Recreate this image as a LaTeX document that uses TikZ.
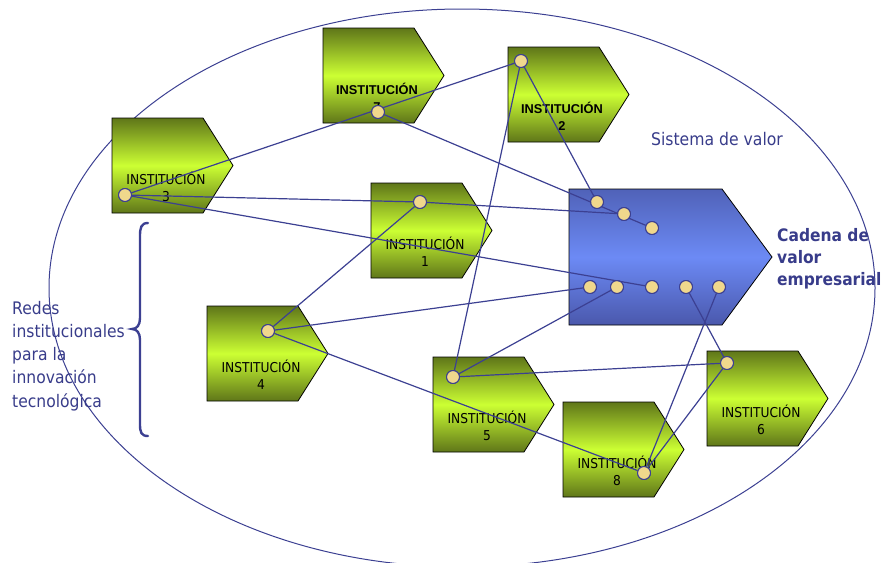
\documentclass[tikz,border=0pt]{standalone}
\usepackage{fontspec}
\setmainfont{DejaVu Sans}
\newfontfamily\tah[FakeStretch=0.9]{DejaVu Sans}
\newfontfamily\arb{Liberation Sans}
\usetikzlibrary{calc}

\definecolor{navy}{RGB}{60,64,146}
\definecolor{txtblue}{RGB}{56,60,138}
\definecolor{dotfill}{RGB}{240,216,140}
\definecolor{olive}{RGB}{95,118,25}
\definecolor{lime}{RGB}{204,255,51}
\definecolor{bluetop}{RGB}{80,98,184}
\definecolor{bluemid}{RGB}{108,138,245}
\definecolor{bluebot}{RGB}{74,88,172}

\tikzset{
  instshade/.style={top color=olive, bottom color=olive, middle color=lime, draw=black, line width=0.8pt},
  insttext/.style={align=center, inner sep=0pt, text=black, font=\tah\fontsize{13.6}{17}\selectfont},
  instbold/.style={align=center, inner sep=0pt, text=black, font=\arb\bfseries\fontsize{12.8}{17}\selectfont},
  dot/.style={circle, minimum size=13pt, inner sep=0pt, fill=dotfill, draw=navy, line width=0.9pt},
  link/.style={draw=navy, line width=1.2pt},
  bluetxt/.style={text=txtblue, inner sep=0pt},
}

% pentagon "signal" box: name, left, top, style of label, label
\newcommand\instbox[5]{%
  \shade[instshade] (#2,#3) -- ++(91,0) -- ++(30,47.5) -- ++(-30,47.5) -- ++(-91,0) -- cycle;
  \node[#4] (#1) at (#2+54,#3+69) {#5};
}

\begin{document}
\begin{tikzpicture}[x=1pt,y=-1pt]
\useasboundingbox (0,0) rectangle (883,562);

% value system boundary
\draw[navy, line width=1pt] (462,288) ellipse [x radius=413, y radius=279];

% institutions
\instbox{i7}{323}{28}{instbold}{INSTITUCIÓN\\7}
\instbox{i2}{508}{47}{instbold}{INSTITUCIÓN\\2}
\instbox{i3}{112}{118}{insttext}{INSTITUCIÓN\\3}
\instbox{i1}{371}{183}{insttext}{INSTITUCIÓN\\1}
\instbox{i4}{207}{306}{insttext}{INSTITUCIÓN\\4}
\instbox{i5}{433}{357}{insttext}{INSTITUCIÓN\\5}
\instbox{i8}{563}{402}{insttext}{INSTITUCIÓN\\8}
\instbox{i6}{707}{351}{insttext}{INSTITUCIÓN\\6}

% company value chain
\shade[top color=bluetop, bottom color=bluebot, middle color=bluemid, draw=black, line width=0.8pt]
  (569,189) -- (722,189) -- (772,257) -- (722,325) -- (569,325) -- cycle;

% contact points
\node[dot] (c7) at (378,112) {};
\node[dot] (c2) at (521,61) {};
\node[dot] (c3) at (125,195) {};
\node[dot] (c1) at (420,202) {};
\node[dot] (c4) at (268,331) {};
\node[dot] (c5) at (453,377) {};
\node[dot] (c8) at (644,473) {};
\node[dot] (c6) at (727,363) {};
\node[dot] (u1) at (597,202) {};
\node[dot] (u2) at (624,214) {};
\node[dot] (u3) at (652,228) {};
\node[dot] (l1) at (590,287) {};
\node[dot] (l2) at (617,287) {};
\node[dot] (l3) at (652,287) {};
\node[dot] (l4) at (686,287) {};
\node[dot] (l5) at (719,287) {};

% links
\draw[link] (c3) -- (c2);
\draw[link] (c3) -- (c1);
\draw[link] (c3) -- (l3);
\draw[link] (c7) -- (u3);
\draw[link] (c2) -- (u1);
\draw[link] (c2) -- (c5);
\draw[link] (c1) -- (u2);
\draw[link] (c1) -- (c4);
\draw[link] (c4) -- (l1);
\draw[link] (c4) -- (c8);
\draw[link] (c5) -- (l2);
\draw[link] (c5) -- (c6);
\draw[link] (c6) -- (c8);
\draw[link] (l4) -- (c6);
\draw[link] (l5) -- (c8);

% redraw dots above the links
\foreach \d in {c7,c2,c3,c1,c4,c5,c8,c6,u1,u2,u3,l1,l2,l3,l4,l5}
  \fill[dotfill] (\d) circle (5.8pt);
\foreach \d in {c7,c2,c3,c1,c4,c5,c8,c6,u1,u2,u3,l1,l2,l3,l4,l5}
  \draw[navy, line width=0.9pt] (\d) circle (6.5pt);

% labels
\node[bluetxt, font=\tah\fontsize{17.4}{22}\selectfont] (sist) at (717,139) {Sistema de valor};
\node[bluetxt, anchor=north west, align=left, font=\tah\bfseries\fontsize{17.2}{22}\selectfont] (cad) at (777,228) {Cadena de\\valor\\empresarial};
\node[bluetxt, anchor=north west, align=left, font=\tah\fontsize{17.3}{23.2}\selectfont] (redes) at (12,301) {Redes\\institucionales\\para la\\innovación\\tecnológica};

% brace
\draw[navy, line width=2.4pt, line cap=round]
  (148,223) .. controls (141,223) and (140,228) .. (140,236) -- (140,318)
  .. controls (140,325) and (137,329) .. (132,329)
  .. controls (137,329) and (140,333) .. (140,340) -- (140,424)
  .. controls (140,432) and (141,436) .. (148,436);
\end{tikzpicture}
\end{document}
